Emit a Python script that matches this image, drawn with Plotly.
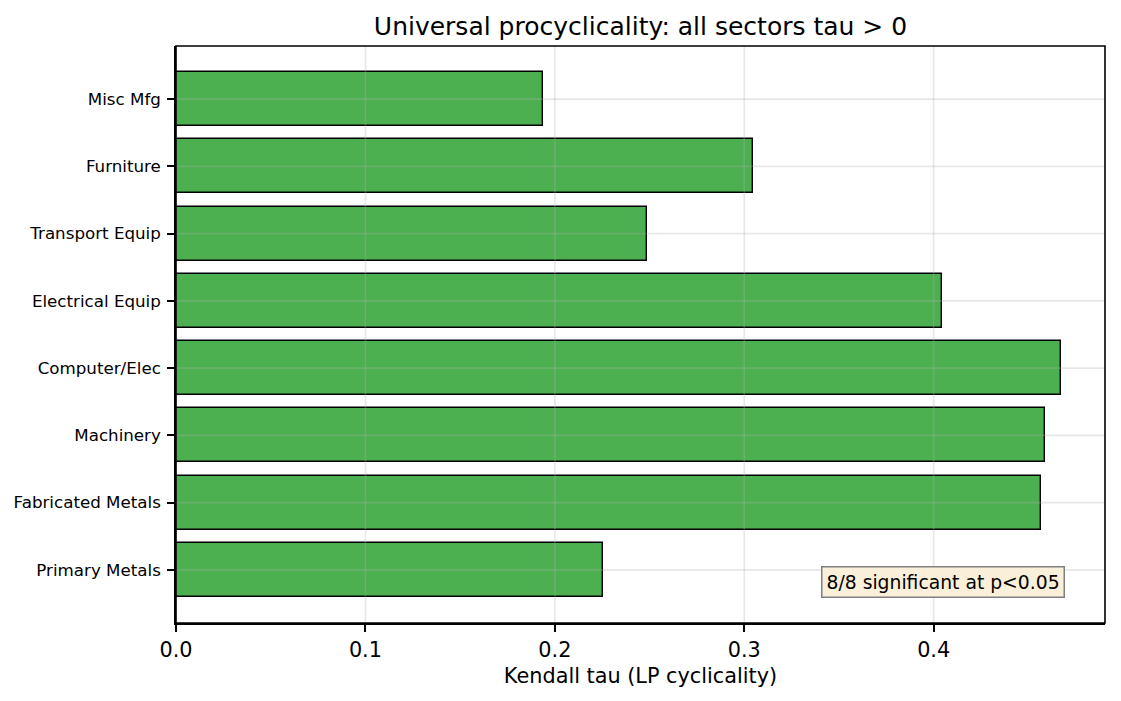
import plotly.graph_objects as go

# --- data (bottom to top, as drawn) ---
sectors = ["Primary Metals", "Fabricated Metals", "Machinery", "Computer/Elec",
           "Electrical Equip", "Transport Equip", "Furniture", "Misc Mfg"]
tau = [0.2256, 0.4565, 0.4586, 0.4671, 0.4043, 0.2488, 0.3047, 0.194]
x_ticks = [0.0, 0.1, 0.2, 0.3, 0.4]
n_sig = 8

fig = go.Figure()

fig.add_trace(go.Bar(
    x=tau, y=sectors, orientation="h", width=0.8,
    marker=dict(color="#4CAF50", line=dict(color="black", width=1.4)),
    showlegend=False,
))

# grid drawn on top of the bars, like the original
grid = dict(color="rgba(176,176,176,0.3)", width=1.6)
shapes = []
for t in x_ticks:
    shapes.append(dict(type="line", xref="x", yref="paper", x0=t, x1=t, y0=0, y1=1,
                       line=grid, layer="above"))
for s in sectors:
    shapes.append(dict(type="line", xref="paper", yref="y", x0=0, x1=1, y0=s, y1=s,
                       line=grid, layer="above"))
# axes frame
shapes.append(dict(type="rect", xref="paper", yref="paper", x0=0, x1=1, y0=0, y1=1,
                   line=dict(color="black", width=1.6), layer="above"))

x_max = max(tau) * 1.05

fig.update_layout(
    width=1121, height=701,
    paper_bgcolor="white", plot_bgcolor="white",
    font=dict(family="DejaVu Sans", color="black"),
    margin=dict(l=168, r=24, t=38, b=86),
    title=dict(text="Universal procyclicality: all sectors tau > 0",
               x=0.5, xanchor="center", xref="paper",
               y=1 - 18 / 701, yanchor="middle", font=dict(size=25)),
    shapes=shapes,
    bargap=0,
)

fig.update_xaxes(
    range=[0, x_max], tickvals=x_ticks, ticktext=[f"{t:.1f}" for t in x_ticks],
    showgrid=False, zeroline=False, automargin=False,
    showline=True, linecolor="black", linewidth=1.6,
    ticks="outside", ticklen=7, tickwidth=1.6, tickcolor="black",
    tickfont=dict(size=20.8),
    title=dict(text="Kendall tau (LP cyclicality)", font=dict(size=20.8), standoff=8),
)
fig.update_yaxes(
    range=[-0.79, len(sectors) - 0.21], type="category",
    showgrid=False, zeroline=False, automargin=False,
    showline=True, linecolor="black", linewidth=1.6,
    ticks="outside", ticklen=7, tickwidth=1.6, tickcolor="black",
    tickfont=dict(size=16.7), ticklabelstandoff=3,
)

fig.add_annotation(
    text=f"{n_sig}/{len(sectors)} significant at p<0.05",
    xref="paper", yref="paper", x=0.957, y=0.043,
    xanchor="right", yanchor="bottom", showarrow=False,
    font=dict(size=18.75, color="black"),
    bgcolor="#FAEFD9", bordercolor="#808080", borderwidth=1.5, borderpad=4,
)

fig.write_html("out.html")
